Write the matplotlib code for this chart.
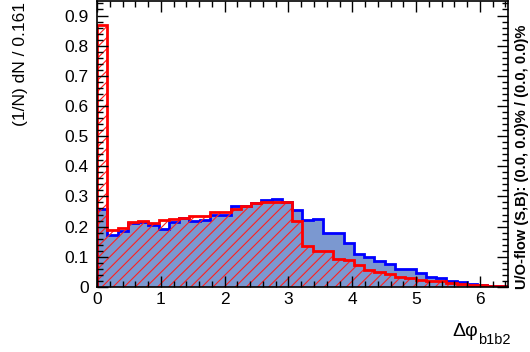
import numpy as np
import matplotlib
matplotlib.use("Agg")
import matplotlib.pyplot as plt
from matplotlib.ticker import MultipleLocator

plt.rcParams['font.family'] = ['Liberation Sans', 'DejaVu Sans']
plt.rcParams['hatch.linewidth'] = 0.8

# 40 bins of width 0.161 over [0, 6.44]
bin_width = 0.161
n_bins = 40
edges = np.arange(n_bins + 1) * bin_width

# background (blue, filled)
bkg = [0.258, 0.173, 0.184, 0.212, 0.214, 0.206, 0.193, 0.214, 0.228, 0.220,
       0.222, 0.239, 0.239, 0.267, 0.269, 0.278, 0.287, 0.292, 0.280, 0.254,
       0.223, 0.225, 0.178, 0.178, 0.145, 0.110, 0.100, 0.086, 0.075, 0.059,
       0.058, 0.046, 0.034, 0.029, 0.021, 0.016, 0.009, 0.007, 0.004, 0.002]

# signal (red, hatched)
sig = [0.870, 0.189, 0.195, 0.214, 0.220, 0.212, 0.222, 0.225, 0.228, 0.236,
       0.236, 0.248, 0.250, 0.258, 0.267, 0.278, 0.281, 0.281, 0.280, 0.219,
       0.136, 0.120, 0.118, 0.092, 0.090, 0.073, 0.056, 0.048, 0.044, 0.034,
       0.029, 0.023, 0.021, 0.018, 0.014, 0.010, 0.007, 0.005, 0.003, 0.003]

fig = plt.figure(figsize=(5.30, 3.52), dpi=100)
ax = fig.add_axes([0.183, 0.185, 0.7755, 0.812])

ax.stairs(bkg, edges, fill=True, color="#7b98d0", linewidth=0)
ax.stairs(bkg, edges, color="#0000ff", linewidth=2.0, baseline=0)
ax.stairs(sig, edges, fill=True, facecolor="none", edgecolor="#ff2020",
          hatch="///", linewidth=0)
ax.stairs(sig, edges, color="#ff0000", linewidth=2.0, baseline=0)

ax.set_xlim(0, edges[-1])
ax.set_ylim(0, 0.948)

ax.xaxis.set_major_locator(MultipleLocator(1))
ax.xaxis.set_minor_locator(MultipleLocator(0.2))
ax.yaxis.set_major_locator(MultipleLocator(0.1))
ax.yaxis.set_minor_locator(MultipleLocator(0.02))
ax.yaxis.set_major_formatter(plt.FuncFormatter(lambda v, p: "0" if v == 0 else f"{v:.1f}"))

ax.tick_params(which="both", direction="in", top=True, right=True,
               width=1.0, labelsize=12.5, colors="black")
ax.tick_params(which="major", length=8)
ax.tick_params(which="minor", length=4)
ax.tick_params(axis="x", which="major", pad=4)
ax.tick_params(axis="y", which="major", pad=6)
for s in ax.spines.values():
    s.set_linewidth(1.2)

fig.text(0.038, 0.995, "(1/N) dN / 0.161", rotation=90, ha="center", va="top",
         fontsize=12.5)
fig.text(0.902, 0.045, "Δφ", ha="right", va="baseline", fontsize=14)
fig.text(0.902, 0.022, "b1b2", ha="left", va="baseline", fontsize=10.5)
fig.text(0.985, 0.178, "U/O-flow (S,B): (0.0, 0.0)% / (0.0, 0.0)%", rotation=90,
         ha="center", va="bottom", fontsize=10.5, fontweight="bold")

fig.savefig("out.png", dpi=100)
